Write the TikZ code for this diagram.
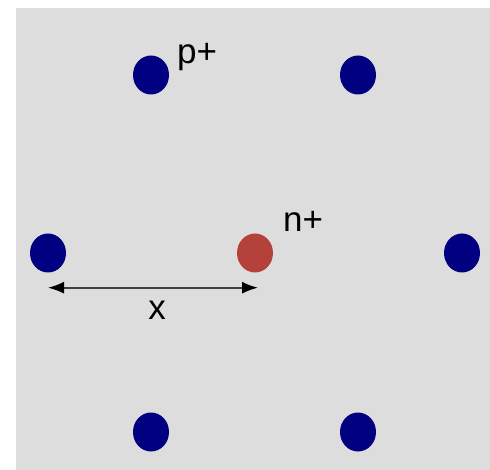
\documentclass[tikz,border=0pt]{standalone}
\usepackage{fontspec}
\setmainfont{Liberation Sans}
\usetikzlibrary{arrows.meta,shapes.geometric}
\definecolor{bgray}{HTML}{DDDDDD}
\definecolor{ionblue}{HTML}{000080}
\definecolor{ionred}{HTML}{B5413B}
\begin{document}
\begin{tikzpicture}[
  x=1pt,y=-1pt,
  font=\fontsize{35}{40}\selectfont,
  ion/.style={ellipse,minimum width=36pt,minimum height=39pt,inner sep=0pt},
  pion/.style={ion,fill=ionblue},
  nion/.style={ion,fill=ionred},
  dist/.style={{Latex[length=16pt,width=12pt,black]}-{Latex[length=16pt,width=12pt,black]},line width=1.7pt,draw=black!75}
]
  \useasboundingbox (0,0) rectangle (490,470);
  \fill[bgray] (16,8) rectangle (490,470);

  \node[pion] (P1) at (151,75) {};
  \node[pion] (P2) at (358,75) {};
  \node[pion] (P3) at (48,253) {};
  \node[nion] (N)  at (255,253) {};
  \node[pion] (P4) at (462,253) {};
  \node[pion] (P5) at (151,432) {};
  \node[pion] (P6) at (358,432) {};

  \node (plab) at (197,57) {p+};
  \node (nlab) at (303,221) {n+};

  \draw[dist] ([yshift=-15pt]P3.south) -- ([xshift=3pt,yshift=-15pt]N.south)
    node[pos=0.52,below=9pt] (xlab) {x};
\end{tikzpicture}
\end{document}
